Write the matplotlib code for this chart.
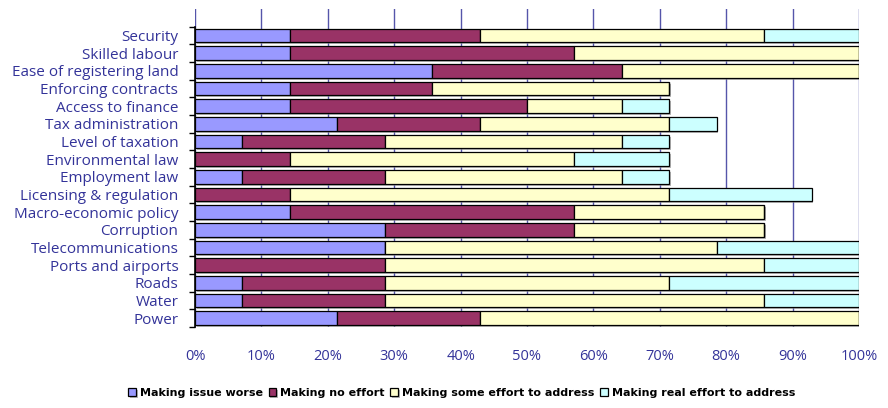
import matplotlib.pyplot as plt
import matplotlib.patheffects as pe
from matplotlib.ticker import FuncFormatter, MultipleLocator
import numpy as np

# Share of respondents (%) per issue, listed bottom to top
issues = ["Power", "Water", "Roads", "Ports and airports", "Telecommunications",
          "Corruption", "Macro-economic policy", "Licensing & regulation",
          "Employment law", "Environmental law", "Level of taxation",
          "Tax administration", "Access to finance", "Enforcing contracts",
          "Ease of registering land", "Skilled labour", "Security"]

worse = [21.43, 7.14, 7.14, 0, 28.57, 28.57, 14.29, 0,
         7.14, 0, 7.14, 21.43, 14.29, 14.29, 35.71, 14.29, 14.29]
no_effort = [21.43, 21.43, 21.43, 28.57, 0, 28.57, 42.86, 14.29,
             21.43, 14.29, 21.43, 21.43, 35.71, 21.43, 28.57, 42.86, 28.57]
some_effort = [57.14, 57.14, 42.86, 57.14, 50.0, 28.57, 28.57, 57.14,
               35.71, 42.86, 35.71, 28.57, 14.29, 35.71, 35.71, 42.86, 42.86]
real_effort = [0, 14.29, 28.57, 14.29, 21.43, 0, 0, 21.43,
               7.14, 14.29, 7.14, 7.14, 7.14, 0, 0, 0, 14.29]

series = [("Making issue worse", worse, "#9999ff"),
          ("Making no effort", no_effort, "#993366"),
          ("Making some effort to address", some_effort, "#ffffcc"),
          ("Making real effort to address", real_effort, "#ccffff")]

label_color = "#333399"

fig = plt.figure(figsize=(8.88, 4.08), dpi=100)
ax = fig.add_axes([0.2196, 0.1985, 0.7477, 0.7795])

y = np.arange(len(issues))
left = np.zeros(len(issues))
shadow = [pe.SimplePatchShadow(offset=(1.2, -1.5), shadow_rgbFace="#888888", alpha=0.6),
          pe.Normal()]
handles = []
for name, vals, color in series:
    vals = np.array(vals, dtype=float)
    bars = ax.barh(y, vals, left=left, height=0.78, color=color,
                   edgecolor="black", linewidth=0.9, label=name, zorder=3)
    for b in bars:
        if b.get_width() > 0:
            b.set_path_effects(shadow)
    handles.append(bars)
    left += vals

ax.set_xlim(0, 100)
ax.set_ylim(-0.5, len(issues) + 0.5)
ax.xaxis.set_major_locator(MultipleLocator(10))
ax.xaxis.set_major_formatter(FuncFormatter(lambda v, p: f"{v:.0f}%"))
ax.grid(axis="x", color="#5555aa", linewidth=1.0, zorder=0)
ax.set_axisbelow(True)

ax.set_yticks(y)
ax.set_yticklabels(issues)
ax.set_yticks(np.arange(-0.5, len(issues) + 0.5, 1.0), minor=True)
ax.tick_params(axis="y", which="major", length=0, pad=12,
               labelsize=11, labelcolor=label_color)
ax.tick_params(axis="y", which="minor", length=4, width=1.0, color="black")
ax.tick_params(axis="x", length=0, pad=16, labelsize=10.5, labelcolor=label_color)
for lab in ax.get_yticklabels() + ax.get_xticklabels():
    lab.set_family(["Open Sans", "DejaVu Sans"])

for side in ("top", "right", "bottom"):
    ax.spines[side].set_visible(False)
ax.spines["left"].set_color("black")
ax.spines["left"].set_linewidth(1.2)
ax.spines["left"].set_bounds(-0.5, len(issues) - 0.5)

fig.legend(handles=handles, loc="lower center", bbox_to_anchor=(0.52, 0.0),
           ncol=4, frameon=False, handlelength=0.7, handleheight=0.7,
           handletextpad=0.35, columnspacing=0.5,
           prop={"family": "DejaVu Sans", "weight": "bold", "size": 8})

fig.savefig("out.png", dpi=100)
